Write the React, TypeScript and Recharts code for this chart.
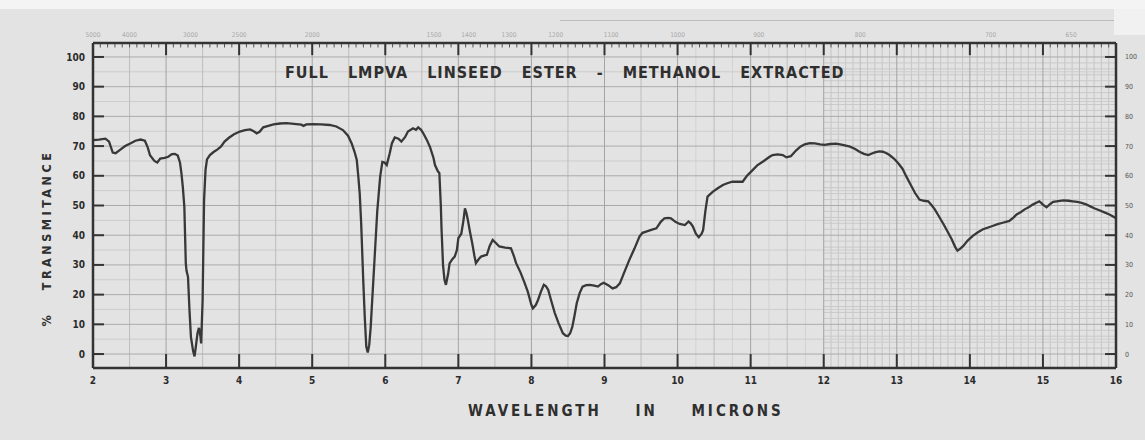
import { LineChart, Line, XAxis, YAxis, ReferenceLine } from "recharts";

// Wavelength (microns) and % transmittance
const WAVELENGTH = [
  2.0, 2.08, 2.17, 2.22, 2.27, 2.31, 2.37, 2.44, 2.51, 2.58, 2.65, 2.71, 2.75, 2.78, 2.84, 2.88, 2.92, 2.98,
  3.03, 3.08, 3.12, 3.16, 3.19, 3.21, 3.23, 3.25, 3.26, 3.27, 3.28, 3.3, 3.32, 3.34, 3.37, 3.39, 3.41, 3.43,
  3.45, 3.47, 3.48, 3.5, 3.51, 3.52, 3.54, 3.56, 3.6, 3.65, 3.7, 3.75, 3.8, 3.86, 3.93, 4.01, 4.08, 4.15,
  4.2, 4.24, 4.28, 4.33, 4.4, 4.47, 4.56, 4.65, 4.75, 4.85, 4.88, 4.92, 5.01, 5.12, 5.24, 5.33, 5.42, 5.49,
  5.54, 5.58, 5.61, 5.63, 5.65, 5.67, 5.7, 5.72, 5.74, 5.76, 5.78, 5.8, 5.83, 5.86, 5.89, 5.93, 5.96, 5.99,
  6.02, 6.06, 6.09, 6.13, 6.18, 6.22, 6.27, 6.31, 6.38, 6.42, 6.45, 6.49, 6.52, 6.57, 6.61, 6.66, 6.68, 6.72,
  6.74, 6.76, 6.77, 6.79, 6.81, 6.83, 6.86, 6.88, 6.92, 6.95, 6.98, 7.0, 7.04, 7.07, 7.09, 7.11, 7.13, 7.16,
  7.19, 7.22, 7.24, 7.28, 7.31, 7.36, 7.39, 7.43, 7.47, 7.52, 7.56, 7.64, 7.72, 7.76, 7.79, 7.85, 7.9, 7.95,
  8.0, 8.02, 8.06, 8.09, 8.13, 8.17, 8.2, 8.23, 8.27, 8.32, 8.37, 8.43, 8.47, 8.5, 8.53, 8.56, 8.59, 8.62,
  8.66, 8.7, 8.75, 8.8, 8.86, 8.91, 8.95, 8.99, 9.05, 9.11, 9.16, 9.21, 9.27, 9.34, 9.41, 9.48, 9.52, 9.57,
  9.64, 9.71, 9.77, 9.82, 9.87, 9.91, 9.97, 10.03, 10.1, 10.15, 10.18, 10.21, 10.25, 10.29, 10.33, 10.35,
  10.38, 10.41, 10.48, 10.55, 10.62, 10.68, 10.75, 10.82, 10.89, 10.95, 11.01, 11.09, 11.17, 11.26, 11.3,
  11.37, 11.44, 11.49, 11.55, 11.62, 11.68, 11.74, 11.81, 11.88, 11.95, 12.01, 12.09, 12.17, 12.26, 12.36,
  12.43, 12.49, 12.55, 12.61, 12.66, 12.7, 12.76, 12.81, 12.86, 12.9, 12.96, 13.02, 13.08, 13.13, 13.19,
  13.25, 13.31, 13.37, 13.43, 13.48, 13.52, 13.58, 13.64, 13.7, 13.75, 13.8, 13.83, 13.87, 13.91, 13.97,
  14.04, 14.11, 14.18, 14.25, 14.31, 14.38, 14.45, 14.54, 14.6, 14.64, 14.7, 14.75, 14.81, 14.86, 14.91,
  14.95, 14.98, 15.0, 15.05, 15.1, 15.14, 15.21, 15.28, 15.35, 15.41, 15.47, 15.53, 15.59, 15.64, 15.71,
  15.78, 15.85, 15.91, 15.96, 16.0,
];

const TRANSMITTANCE = [
  72.0, 72.2, 72.5, 71.5, 67.8, 67.6, 68.7, 70.0, 70.9, 71.8, 72.2, 71.8, 69.5, 66.9, 65.0, 64.5, 65.8, 66.0,
  66.4, 67.3, 67.4, 66.8, 64.5, 60.9, 56.0, 49.6, 40.0, 30.5, 28.0, 26.0, 15.0, 5.8, 1.0, -0.8, 3.0, 7.0,
  8.8, 6.0, 3.6, 18.0, 35.0, 51.8, 62.0, 65.5, 67.0, 68.0, 68.8, 69.8, 71.5, 72.8, 74.0, 74.9, 75.4, 75.6,
  75.0, 74.3, 74.8, 76.3, 76.8, 77.3, 77.6, 77.7, 77.5, 77.2, 76.8, 77.3, 77.4, 77.3, 77.1, 76.6, 75.4, 73.5,
  70.9, 68.0, 65.3, 60.0, 54.1, 44.0, 23.8, 12.0, 2.5, 0.5, 3.0, 9.0, 22.0, 35.0, 48.0, 59.7, 64.7, 64.5,
  63.6, 67.5, 70.9, 72.9, 72.5, 71.5, 73.0, 74.9, 76.0, 75.5, 76.3, 75.5, 74.3, 72.0, 69.8, 66.0, 63.6, 61.5,
  60.9, 50.0, 42.0, 30.0, 25.0, 23.3, 27.0, 30.5, 32.0, 32.8, 35.0, 39.0, 40.5, 45.0, 49.0, 47.5, 45.1, 41.0,
  37.3, 33.0, 30.6, 32.0, 32.8, 33.2, 33.4, 36.5, 38.4, 37.2, 36.2, 35.8, 35.6, 33.0, 30.6, 27.5, 24.4, 21.0,
  16.5, 15.4, 16.5, 18.2, 21.0, 23.3, 22.8, 21.6, 18.0, 13.8, 10.5, 7.0, 6.2, 6.1, 7.0, 9.2, 13.0, 17.1,
  20.5, 22.7, 23.2, 23.3, 23.0, 22.7, 23.5, 24.0, 23.2, 22.1, 22.5, 23.8, 27.5, 31.7, 35.5, 39.6, 40.8, 41.2,
  41.8, 42.3, 44.5, 45.7, 45.8, 45.7, 44.5, 43.8, 43.4, 44.6, 44.0, 42.9, 40.5, 39.3, 40.5, 41.8,
  48.0, 53.0, 54.6, 55.8, 56.9, 57.5, 58.0, 58.0, 58.0, 60.0, 61.5, 63.5, 64.8, 66.4, 67.0,
  67.2, 67.0, 66.2, 66.6, 68.5, 69.8, 70.6, 71.0, 70.9, 70.6, 70.4, 70.7, 70.8, 70.4, 69.8,
  69.0, 68.1, 67.4, 67.0, 67.5, 67.9, 68.2, 68.1, 67.6, 67.0, 65.8, 64.2, 62.3, 59.8, 57.0,
  54.2, 52.0, 51.6, 51.4, 50.0, 48.7, 46.2, 43.7, 41.0, 38.7, 36.0, 34.8, 35.5, 36.4, 38.2,
  39.8, 41.0, 42.0, 42.6, 43.1, 43.7, 44.2, 44.8, 46.0, 47.0, 47.8, 48.7, 49.5, 50.3, 50.9,
  51.4, 50.8, 50.3, 49.4, 50.5, 51.2, 51.5, 51.7, 51.6, 51.4, 51.2, 50.9, 50.4, 49.8, 49.0,
  48.3, 47.6, 47.0, 46.3, 45.7,
];

const MICRON_TICKS = [2, 3, 4, 5, 6, 7, 8, 9, 10, 11, 12, 13, 14, 15, 16];
const PERCENT_TICKS = [0, 10, 20, 30, 40, 50, 60, 70, 80, 90, 100];
const WAVENUMBER_LABELS = [5000, 4000, 3000, 2500, 2000, 1500, 1400, 1300, 1200, 1100, 1000, 900, 800, 700, 650];

const X_DOMAIN: [number, number] = [2, 16];
const Y_DOMAIN: [number, number] = [-4.7, 104.7];

const data = WAVELENGTH.map((w, i) => ({ w, t: TRANSMITTANCE[i] }));

function range(start: number, end: number, step: number) {
  const out: number[] = [];
  for (let v = start; v <= end + 1e-9; v += step) out.push(Math.round(v * 100) / 100);
  return out;
}

const isMultiple = (v: number, m: number) => Math.abs(v / m - Math.round(v / m)) < 1e-6;

// chart-paper grid
const V_MAJOR = range(3, 15, 1);
const V_HALF = range(2.5, 15.5, 1);
const V_FINE_MID = range(10, 12, 0.25).filter((v) => !isMultiple(v, 0.5));
const V_FINE_RIGHT = range(12, 16, 0.1).filter((v) => !isMultiple(v, 0.5));
const H_MAJOR = range(0, 100, 10);
const H_MINOR = range(5, 95, 10);
const H_FINE_RIGHT = range(0, 100, 2).filter((v) => !isMultiple(v, 5));
const TOP_MINOR = range(2, 16, 0.1).filter((v) => !isMultiple(v, 1));

const FONT = "'DejaVu Sans Condensed', 'DejaVu Sans', sans-serif";
const INK = "#333333";

export default function App() {
  return (
    <div
      style={{
        position: "absolute",
        left: 0,
        top: 0,
        width: 1145,
        height: 440,
        background: "#e3e3e3",
        overflow: "hidden",
        fontFamily: FONT,
      }}
    >
      <div style={{ position: "absolute", left: 0, top: 0, width: 1145, height: 9, background: "#f4f4f4" }} />
      <div style={{ position: "absolute", left: 1114, top: 9, width: 31, height: 26, background: "#f1f1f1" }} />
      <div style={{ position: "absolute", left: 560, top: 20, width: 554, height: 1, background: "#bcbcbc" }} />

      <LineChart width={1145} height={440} data={data} margin={{ top: 27, right: 5, bottom: 52, left: 63 }}>
        {V_FINE_RIGHT.map((v) => (
          <ReferenceLine key={`vfr${v}`} x={v} stroke="#c6c6c6" strokeWidth={1} />
        ))}
        {H_FINE_RIGHT.map((v) => (
          <ReferenceLine
            key={`hfr${v}`}
            segment={[
              { x: 12, y: v },
              { x: 16, y: v },
            ]}
            stroke="#c9c9c9"
            strokeWidth={1}
          />
        ))}
        {V_FINE_MID.map((v) => (
          <ReferenceLine key={`vfm${v}`} x={v} stroke="#d2d2d2" strokeWidth={1} />
        ))}
        {H_MINOR.map((v) => (
          <ReferenceLine key={`hmn${v}`} y={v} stroke="#cdcdcd" strokeWidth={1} />
        ))}
        {V_HALF.map((v) => (
          <ReferenceLine key={`vh${v}`} x={v} stroke="#bdbdbd" strokeWidth={1} />
        ))}
        {H_MAJOR.map((v) => (
          <ReferenceLine key={`hm${v}`} y={v} stroke="#ababab" strokeWidth={1} />
        ))}
        {V_MAJOR.map((v) => (
          <ReferenceLine key={`vm${v}`} x={v} stroke="#a4a4a4" strokeWidth={1} />
        ))}

        {/* inward tick marks on the frame */}
        {PERCENT_TICKS.map((v) => (
          <ReferenceLine
            key={`lt${v}`}
            segment={[
              { x: 2, y: v },
              { x: 2.15, y: v },
            ]}
            stroke={INK}
            strokeWidth={2}
          />
        ))}
        {PERCENT_TICKS.map((v) => (
          <ReferenceLine
            key={`rt${v}`}
            segment={[
              { x: 15.85, y: v },
              { x: 16, y: v },
            ]}
            stroke={INK}
            strokeWidth={2}
          />
        ))}
        {MICRON_TICKS.map((v) => (
          <ReferenceLine
            key={`bt${v}`}
            segment={[
              { x: v, y: -4.7 },
              { x: v, y: 0 },
            ]}
            stroke={INK}
            strokeWidth={2}
          />
        ))}
        {MICRON_TICKS.map((v) => (
          <ReferenceLine
            key={`tt${v}`}
            segment={[
              { x: v, y: 104.7 },
              { x: v, y: 100.6 },
            ]}
            stroke={INK}
            strokeWidth={2}
          />
        ))}
        {TOP_MINOR.map((v) => (
          <ReferenceLine
            key={`tm${v}`}
            segment={[
              { x: v, y: 104.7 },
              { x: v, y: 103.2 },
            ]}
            stroke="#555"
            strokeWidth={1}
          />
        ))}

        <XAxis
          dataKey="w"
          type="number"
          domain={X_DOMAIN}
          allowDataOverflow
          ticks={MICRON_TICKS}
          interval={0}
          height={20}
          tickSize={0}
          tickMargin={9}
          axisLine={{ stroke: INK, strokeWidth: 2.5 }}
          tick={{ fill: "#2b2b2b", fontSize: 10, fontWeight: 700, fontFamily: FONT }}
        />
        <XAxis
          xAxisId="top"
          dataKey="w"
          orientation="top"
          type="number"
          domain={X_DOMAIN}
          allowDataOverflow
          ticks={WAVENUMBER_LABELS.map((n) => 10000 / n)}
          tickFormatter={(v: number) => String(Math.round(10000 / v))}
          interval={0}
          height={16}
          tickSize={0}
          tickMargin={6}
          axisLine={{ stroke: INK, strokeWidth: 2.5 }}
          tick={{ fill: "#a9a9a9", fontSize: 6.5, fontFamily: FONT }}
        />
        <YAxis
          type="number"
          domain={Y_DOMAIN}
          allowDataOverflow
          ticks={PERCENT_TICKS}
          interval={0}
          width={30}
          tickSize={0}
          tickMargin={8}
          axisLine={{ stroke: INK, strokeWidth: 2.5 }}
          tick={{ fill: "#2b2b2b", fontSize: 10, fontWeight: 700, fontFamily: FONT }}
        />
        <YAxis
          yAxisId="right"
          dataKey="t"
          orientation="right"
          type="number"
          domain={Y_DOMAIN}
          allowDataOverflow
          ticks={PERCENT_TICKS}
          interval={0}
          width={24}
          tickSize={0}
          tickMargin={9}
          axisLine={{ stroke: INK, strokeWidth: 2.5 }}
          tick={{ fill: "#555", fontSize: 7, fontFamily: FONT, textAnchor: "start" }}
        />

        <Line
          type="linear"
          dataKey="t"
          stroke="#383838"
          strokeWidth={2.3}
          dot={false}
          isAnimationActive={false}
        />
      </LineChart>

      <div
        style={{
          position: "absolute",
          left: 285,
          top: 65,
          fontSize: 16,
          fontWeight: 700,
          letterSpacing: 1,
          wordSpacing: 13,
          color: "#2f2f2f",
          whiteSpace: "nowrap",
          lineHeight: 1,
        }}
      >
        FULL LMPVA LINSEED ESTER - METHANOL EXTRACTED
      </div>
      <div
        style={{
          position: "absolute",
          left: 468,
          top: 404,
          fontSize: 15,
          fontWeight: 700,
          letterSpacing: 3,
          wordSpacing: 26,
          color: "#2f2f2f",
          whiteSpace: "nowrap",
          lineHeight: 1,
        }}
      >
        WAVELENGTH IN MICRONS
      </div>
      <div
        style={{
          position: "absolute",
          left: 47,
          top: 238,
          transform: "translate(-50%, -50%) rotate(-90deg)",
          fontSize: 12.5,
          fontWeight: 700,
          letterSpacing: 3.5,
          wordSpacing: 14,
          color: "#2f2f2f",
          whiteSpace: "nowrap",
          lineHeight: 1,
        }}
      >
        % TRANSMITANCE
      </div>
    </div>
  );
}
